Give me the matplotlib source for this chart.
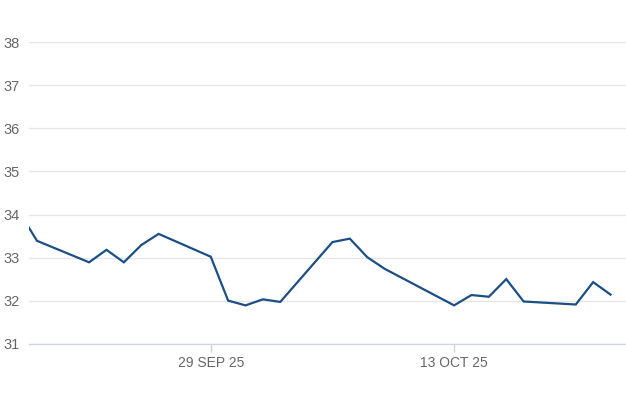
import matplotlib
matplotlib.use("Agg")
import matplotlib.pyplot as plt
import matplotlib.dates as mdates
import numpy as np

# data (trading days only)
dates = [
    "2025-09-18", "2025-09-19", "2025-09-22", "2025-09-23", "2025-09-24",
    "2025-09-25", "2025-09-26", "2025-09-29", "2025-09-30", "2025-10-01",
    "2025-10-02", "2025-10-03", "2025-10-06", "2025-10-07", "2025-10-08",
    "2025-10-09", "2025-10-13", "2025-10-14", "2025-10-15", "2025-10-16",
    "2025-10-17", "2025-10-20", "2025-10-21", "2025-10-22",
]
values = [
    34.05, 33.39, 32.89, 33.18, 32.89,
    33.29, 33.55, 33.02, 32.00, 31.89,
    32.03, 31.97, 33.36, 33.44, 33.01,
    32.74, 31.89, 32.13, 32.09, 32.50,
    31.98, 31.91, 32.43, 32.14,
]
y_ticks = [31, 32, 33, 34, 35, 36, 37, 38]
x_ticks = ["2025-09-29", "2025-10-13"]
x_tick_labels = ["29 SEP 25", "13 OCT 25"]

x = np.array(dates, dtype="datetime64[D]")

fig = plt.figure(figsize=(6.26, 4.17), dpi=100)
ax = fig.add_axes([0.0463, 0.1758, 0.954, 0.7228])

ax.plot(x, values, color="#1b4f85", linewidth=1.6, solid_joinstyle="miter")

start = np.datetime64("2025-09-18T13:00")
end = np.datetime64("2025-10-22T21:36")
ax.set_xlim(start, end)
ax.set_ylim(31, 38)

ax.set_yticks(y_ticks)
ax.set_yticklabels([str(v) for v in y_ticks])
ax.set_xticks(np.array(x_ticks, dtype="datetime64[D]"))
ax.set_xticklabels(x_tick_labels)

ax.grid(axis="y", color="#e6e6e6", linewidth=1.0)
ax.set_axisbelow(True)
for side in ["top", "right", "left"]:
    ax.spines[side].set_visible(False)
ax.spines["bottom"].set_color("#cdd6df")
ax.spines["bottom"].set_linewidth(1.0)

ax.tick_params(axis="y", length=0, pad=7, labelsize=10.5, labelcolor="#666666")
ax.tick_params(axis="x", length=6, width=1, color="#cdd6df", pad=3,
               labelsize=10, labelcolor="#666666")
for lbl in ax.get_xticklabels() + ax.get_yticklabels():
    lbl.set_family("Liberation Sans")

fig.savefig("out.png", dpi=100)
